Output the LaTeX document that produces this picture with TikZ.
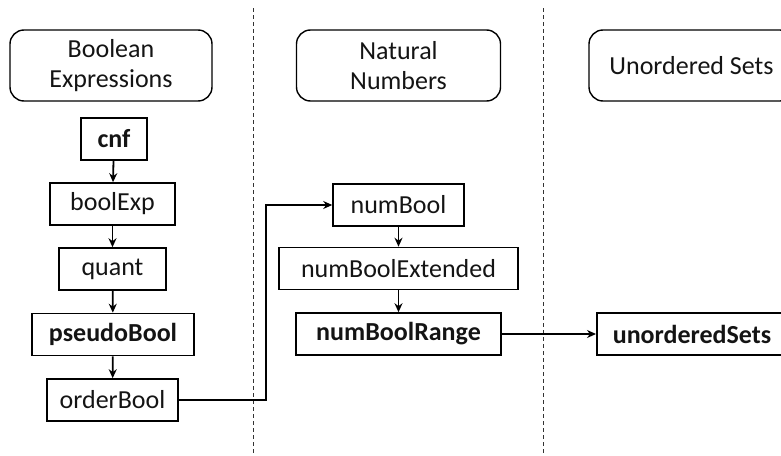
\documentclass[tikz,border=0pt]{standalone}
\usepackage{fontspec}
\setmainfont{Carlito}
\usetikzlibrary{arrows.meta}
\begin{document}
\begin{tikzpicture}[x=1pt,y=-1pt,
  every node/.style={font=\fontsize{26}{30}\selectfont, text=black!92},
  header/.style={draw, line width=1.4pt, rounded corners=14pt, minimum height=71pt, align=center, inner sep=0pt},
  stage/.style={draw, line width=1.6pt, minimum height=42pt, inner sep=0pt},
  key/.style={stage, font=\fontsize{26}{30}\selectfont\bfseries},
  flow/.style={line width=1.8pt, -{Stealth[length=9pt,width=8pt]}},
  divider/.style={line width=0.9pt, black!80, dash pattern=on 4pt off 3pt}
]
\useasboundingbox (0,0) rectangle (781,455);
\begin{scope}
\clip (0,0) rectangle (781,455);

% column dividers
\coordinate (d1top) at (253,8);
\coordinate (d1bot) at (253,455);
\coordinate (d2top) at (543,8);
\coordinate (d2bot) at (543,455);
\draw[divider] (d1top) -- (d1bot);
\draw[divider] (d2top) -- (d2bot);

% column headers
\node[header, minimum width=202pt] (hbool) at (111,65.5) {Boolean\\Expressions};
\node[header, minimum width=204pt] (hnat) at (398.5,65.5) {Natural\\Numbers};
\node[header, minimum width=205pt] (hset) at (691.5,65.5) {Unordered Sets};

% Boolean expressions chain
\node[key, minimum width=66pt] (cnf) at (114,139) {cnf};
\node[stage, minimum width=125pt] (boolExp) at (112.5,204) {boolExp};
\node[stage, minimum width=107pt] (quant) at (112.5,269) {quant};
\node[key, minimum width=162pt] (pseudoBool) at (113,334.5) {pseudoBool};
\node[stage, minimum width=131pt] (orderBool) at (112.5,400) {orderBool};

% natural numbers chain
\node[stage, minimum width=131pt] (numBool) at (398.5,205) {numBool};
\node[stage, minimum width=239pt] (numBoolExt) at (398.5,268.5) {numBoolExtended};
\node[key, minimum width=205pt] (numBoolRange) at (398.5,334) {numBoolRange};

% unordered sets (runs past the right edge)
\node[key, anchor=west, align=left, text width=190pt, inner xsep=16pt] (unorderedSets) at (596,334) {unorderedSets};

% connectors
\draw[flow] (cnf) -- (boolExp);
\draw[flow] (boolExp) -- (quant);
\draw[flow] (quant) -- (pseudoBool);
\draw[flow] (pseudoBool) -- (orderBool);
\draw[flow] (orderBool.east) -- ++(87,0) |- (numBool.west);
\draw[flow] (numBool) -- (numBoolExt);
\draw[flow] (numBoolExt) -- (numBoolRange);
\draw[flow] (numBoolRange) -- (unorderedSets);
\end{scope}
\end{tikzpicture}
\end{document}
